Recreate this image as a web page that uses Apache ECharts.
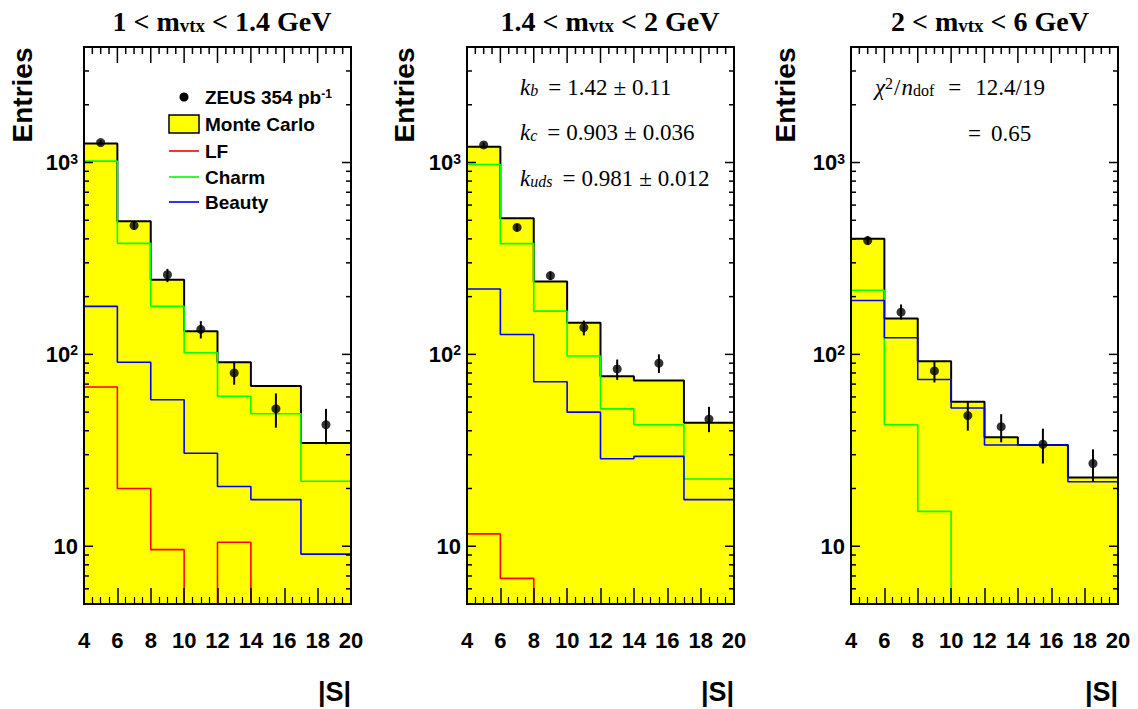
<!DOCTYPE html>
<html><head><meta charset="utf-8">
<script src="https://cdn.jsdelivr.net/npm/echarts@6.0.0/dist/echarts.min.js"></script>
<style>html,body{margin:0;padding:0;background:#fff}#wrap{position:relative;width:1138px;height:709px}.c{position:absolute;left:0;top:0;width:1138px;height:709px}</style>
</head><body><div id="wrap"><div id="c0" class="c"></div><div id="c1" class="c"></div><div id="c2" class="c"></div></div>
<script>
// ---- shared binning / ticks ----
const binEdges = [4, 6, 8, 10, 12, 14, 17, 20];
const pointX = [5, 7, 9, 11, 13, 15.5, 18.5];
const xTickLabels = ['4', '6', '8', '10', '12', '14', '16', '18', '20'];
const xMajorTicks = [6, 8, 10, 12, 14, 16, 18];
const xMinorTicks = [4.5, 5, 5.5, 6.5, 7, 7.5, 8.5, 9, 9.5, 10.5, 11, 11.5, 12.5, 13, 13.5, 14.5, 15, 15.5, 16.5, 17, 17.5, 18.5, 19, 19.5];
const yMajorTicks = [10, 100, 1000];
const yMinorTicks = [6, 7, 8, 9, 20, 30, 40, 50, 60, 70, 80, 90, 200, 300, 400, 500, 600, 700, 800, 900, 2000, 3000];
const panelTitles = ['1 < m|vtx| < 1.4 GeV', '1.4 < m|vtx| < 2 GeV', '2 < m|vtx| < 6 GeV'];
const legendNames = ['ZEUS 354 pb', 'Monte Carlo', 'LF', 'Charm', 'Beauty'];

// ---- panel 1: 1 < m_vtx < 1.4 GeV ----
const mc1 = [1255, 494, 245, 132, 91, 68.5, 34.5];
const charm1 = [1017, 379, 178, 102, 60.5, 49, 21.8];
const beauty1 = [178, 91, 58, 30.5, 20.5, 17.5, 9.1];
const lf1 = [67.6, 20, 9.6, 1, 10.5, 1, 1];
const data1 = [1270, 469, 260, 135, 80, 52, 43];
const lo1 = [1235, 445, 238, 121, 69.5, 41.5, 34];
const hi1 = [1305, 494, 279, 149, 91, 62.6, 52];

// ---- panel 2: 1.4 < m_vtx < 2 GeV ----
const mc2 = [1207, 512, 240, 146, 77, 73, 44];
const charm2 = [976, 378, 168, 98, 52, 43, 22.4];
const beauty2 = [219, 127, 72, 50, 28.6, 29.4, 17.5];
const lf2 = [11.6, 6.8, 1, 1, 1, 1, 1];
const data2 = [1235, 459, 257, 138, 84, 90, 46];
const lo2 = [1200, 438, 244, 125.6, 73.6, 80, 39.3];
const hi2 = [1270, 480, 271, 150, 94, 100, 53.3];

// ---- panel 3: 2 < m_vtx < 6 GeV ----
const mc3 = [400, 154, 92, 56.6, 37, 33.7, 22.8];
const charm3 = [216, 43, 15.2, 1, 1, 1, 1];
const beauty3 = [191, 122, 74, 52.5, 33.7, 33.7, 21.7];
const data3 = [392, 166, 82, 48, 42, 34, 27];
const lo3 = [372, 152, 71.4, 40, 34.8, 27, 21.8];
const hi3 = [412, 182, 92.3, 56.3, 48.8, 41, 32];

const panels = [
  {mc: mc1, charm: charm1, beauty: beauty1, lf: lf1, data: data1, lo: lo1, hi: hi1},
  {mc: mc2, charm: charm2, beauty: beauty2, lf: lf2, data: data2, lo: lo2, hi: hi2},
  {mc: mc3, charm: charm3, beauty: beauty3, lf: null, data: data3, lo: lo3, hi: hi3}
];

const gridLefts = [84, 467, 851];
const gridTop = 47, gridW = 267, gridH = 557;
const SANS = 'Liberation Sans';
const SERIF = 'Liberation Serif';

function stepData(vals) {
  return binEdges.map((e, i) => [e, vals[Math.min(i, vals.length - 1)]]);
}

// ---- texts shared builders ----
const titleCenters = [222, 610, 990];
const entriesX = [22.5, 404, 785.5];
const legY = [97, 124, 151, 177, 202];
const legTextStyle = {fontFamily: SANS, fontWeight: 'bold', fontSize: 19, align: 'left', verticalAlign: 'middle', fill: '#000'};
const legColors = ['#ff0000', '#00ff00', '#0000ff'];
const mathRich = {
  t: {fontFamily: SERIF, fontSize: 23, lineHeight: 23, verticalAlign: 'top', fill: '#000'},
  i: {fontFamily: SERIF, fontStyle: 'italic', fontSize: 23, lineHeight: 23, verticalAlign: 'top', fill: '#000'},
  eq: {fontFamily: SERIF, fontSize: 23, lineHeight: 23, verticalAlign: 'top', padding: [0, 6, 0, 10], fill: '#000'},
  eq2: {fontFamily: SERIF, fontSize: 23, lineHeight: 23, verticalAlign: 'top', padding: [0, 14, 0, 14], fill: '#000'},
  eq3: {fontFamily: SERIF, fontSize: 23, lineHeight: 23, verticalAlign: 'top', padding: [0, 10, 0, 0], fill: '#000'},
  pm: {fontFamily: SERIF, fontSize: 23, lineHeight: 23, verticalAlign: 'top', padding: [0, 6, 0, 6], fill: '#000'},
  sl: {fontFamily: SERIF, fontSize: 23, lineHeight: 23, verticalAlign: 'top', padding: [0, 1, 0, 1], fill: '#000'},
  sub: {fontFamily: SERIF, fontStyle: 'italic', fontSize: 16, lineHeight: 16, padding: [10, 0, 0, 0], verticalAlign: 'bottom', fill: '#000'},
  subr: {fontFamily: SERIF, fontSize: 16, lineHeight: 16, padding: [10, 0, 0, 0], verticalAlign: 'bottom', fill: '#000'},
  sup: {fontFamily: SERIF, fontSize: 16, lineHeight: 16, verticalAlign: 'top', fill: '#000'}
};
const annotations = [
  [],
  [
    {x: 520, y: 87, text: '{i|k}{sub|b}{eq|=}{t|1.42}{pm|±}{t|0.11}'},
    {x: 520, y: 132, text: '{i|k}{sub|c}{eq|=}{t|0.903}{pm|±}{t|0.036}'},
    {x: 520, y: 178, text: '{i|k}{sub|uds}{eq|=}{t|0.981}{pm|±}{t|0.012}'}
  ],
  [
    {x: 875, y: 87, text: '{i|χ}{sup|2}{sl|/}{i|n}{subr|dof}{eq2|=}{t|12.4/19}'},
    {x: 968, y: 133, text: '{eq3|=}{t|0.65}'}
  ]
];

function panelTexts(k) {
  const els = [];
  const parts = panelTitles[k].split('|');
  els.push({
    type: 'text', x: titleCenters[k], y: 21, z: 20, silent: true,
    style: {
      text: '{m|' + parts[0] + '}{s|' + parts[1] + '}{m|' + parts[2] + '}',
      align: 'center', verticalAlign: 'middle',
      rich: {
        m: {fontFamily: SERIF, fontWeight: 'bold', fontSize: 28, lineHeight: 28, verticalAlign: 'top', fill: '#000'},
        s: {fontFamily: SERIF, fontWeight: 'bold', fontSize: 19, lineHeight: 19, padding: [17, 0, 0, 0], verticalAlign: 'bottom', fill: '#000'}
      }
    }
  });
  els.push({
    type: 'text', x: entriesX[k], y: 95, rotation: Math.PI / 2, z: 20, silent: true,
    style: {text: 'Entries', fontFamily: SANS, fontWeight: 'bold', fontSize: 28, align: 'center', verticalAlign: 'middle', fill: '#000'}
  });
  els.push({
    type: 'text', x: gridLefts[k] + gridW, y: 692, z: 20, silent: true,
    style: {text: '|S|', fontFamily: SANS, fontWeight: 'bold', fontSize: 27, align: 'right', verticalAlign: 'middle', fill: '#000'}
  });
  if (k === 0) {
    els.push({type: 'circle', shape: {cx: 184, cy: legY[0], r: 4.5}, style: {fill: '#000'}, z: 20, silent: true});
    els.push({type: 'text', x: 205, y: legY[0], z: 20, silent: true, style: {
      text: '{m|' + legendNames[0] + '}{s|-1}', align: 'left', verticalAlign: 'middle',
      rich: {
        m: {fontFamily: SANS, fontWeight: 'bold', fontSize: 19, lineHeight: 19, verticalAlign: 'bottom', fill: '#000'},
        s: {fontFamily: SANS, fontWeight: 'bold', fontSize: 12, lineHeight: 12, verticalAlign: 'top', fill: '#000'}
      }}});
    els.push({type: 'rect', shape: {x: 169, y: 115, width: 30, height: 18}, style: {fill: '#ffff00', stroke: '#000', lineWidth: 1.5}, z: 20, silent: true});
    els.push({type: 'text', x: 205, y: legY[1], z: 20, silent: true, style: Object.assign({text: legendNames[1]}, legTextStyle)});
    [2, 3, 4].forEach((n, j) => {
      els.push({type: 'line', shape: {x1: 169, y1: legY[n], x2: 199, y2: legY[n]}, style: {stroke: legColors[j], lineWidth: 1.6}, z: 20, silent: true});
      els.push({type: 'text', x: 205, y: legY[n], z: 20, silent: true, style: Object.assign({text: legendNames[n]}, legTextStyle)});
    });
  }
  annotations[k].forEach(a => els.push({
    type: 'text', x: a.x, y: a.y, z: 20, silent: true,
    style: {text: a.text, align: 'left', verticalAlign: 'middle', rich: mathRich}
  }));
  return els;
}

function buildPanel(k) {
  const p = panels[k];
  const series = [];
  series.push({
    name: legendNames[1], type: 'line', step: 'end', data: stepData(p.mc), symbol: 'none', z: 2, silent: true,
    lineStyle: {color: '#000', width: 2}, areaStyle: {color: '#ffff00', opacity: 1, origin: 'start'}
  });
  if (p.lf) series.push({
    name: legendNames[2], type: 'line', step: 'end', data: stepData(p.lf), symbol: 'none', z: 3, silent: true,
    lineStyle: {color: '#ff0000', width: 1.6}
  });
  series.push({
    name: legendNames[3], type: 'line', step: 'end', data: stepData(p.charm), symbol: 'none', z: 3, silent: true,
    lineStyle: {color: '#00ff00', width: 1.6}
  });
  series.push({
    name: legendNames[4], type: 'line', step: 'end', data: stepData(p.beauty), symbol: 'none', z: 3, silent: true,
    lineStyle: {color: '#0000ff', width: 1.6}
  });
  series.push({
    name: legendNames[0] + ' errors', type: 'custom', z: 4, silent: true,
    data: pointX.map((x, i) => [x, p.lo[i], p.hi[i]]), encode: {x: 0, y: [1, 2]},
    renderItem: (params, api) => {
      const a = api.coord([api.value(0), api.value(1)]);
      const b = api.coord([api.value(0), api.value(2)]);
      return {type: 'line', shape: {x1: a[0], y1: a[1], x2: b[0], y2: b[1]}, style: {stroke: '#000', lineWidth: 2}};
    }
  });
  series.push({
    name: legendNames[0], type: 'scatter', z: 5, silent: true,
    data: pointX.map((x, i) => [x, p.data[i]]), symbol: 'circle', symbolSize: 9, itemStyle: {color: '#000'}
  });
  // y ticks (left and right) and frame
  series.push({
    name: 'y ticks', type: 'custom', z: 11, silent: true,
    data: yMajorTicks.map(v => [4, v, 1]).concat(yMinorTicks.map(v => [4, v, 0])), encode: {x: 0, y: 1},
    renderItem: (params, api) => {
      const cs = params.coordSys;
      const l = api.coord([4, api.value(1)]);
      const len = api.value(2) ? 9 : 5;
      return {type: 'group', children: [
        {type: 'line', shape: {x1: l[0], y1: l[1], x2: l[0] + len, y2: l[1]}, style: {stroke: '#000', lineWidth: 1.5}},
        {type: 'line', shape: {x1: cs.x + cs.width - len, y1: l[1], x2: cs.x + cs.width, y2: l[1]}, style: {stroke: '#000', lineWidth: 1.5}}
      ]};
    }
  });
  // top x ticks
  series.push({
    name: 'x top ticks', type: 'custom', z: 11, silent: true,
    data: xMajorTicks.map(v => [v, 100, 1]).concat(xMinorTicks.map(v => [v, 100, 0])), encode: {x: 0, y: 1},
    renderItem: (params, api) => {
      const cs = params.coordSys;
      const q = api.coord([api.value(0), 100]);
      const len = api.value(2) ? 16 : 7;
      return {type: 'group', children: [
        {type: 'line', shape: {x1: q[0], y1: cs.y, x2: q[0], y2: cs.y + len}, style: {stroke: '#000', lineWidth: 1.5}}
      ]};
    }
  });
  // top and right frame
  series.push({
    name: 'frame', type: 'custom', z: 11, silent: true, data: [[4, 100]], encode: {x: 0, y: 1},
    renderItem: (params, api) => {
      const cs = params.coordSys;
      return {type: 'group', children: [
        {type: 'line', shape: {x1: cs.x, y1: cs.y, x2: cs.x + cs.width, y2: cs.y}, style: {stroke: '#000', lineWidth: 2}},
        {type: 'line', shape: {x1: cs.x + cs.width, y1: cs.y, x2: cs.x + cs.width, y2: cs.y + cs.height}, style: {stroke: '#000', lineWidth: 2}}
      ]};
    }
  });
  const chart = echarts.init(document.getElementById('c' + k), null, {renderer: 'svg', width: 1138, height: 709});
  chart.setOption({
    animation: false,
    grid: {left: gridLefts[k], top: gridTop, width: gridW, height: gridH, show: true, borderColor: '#000', borderWidth: 2, backgroundColor: 'transparent'},
    xAxis: {
      type: 'value', min: 4, max: 20, interval: 2, z: 10, position: 'bottom',
      axisLine: {show: true, onZero: false, lineStyle: {color: '#000', width: 2}},
      axisTick: {show: true, inside: true, length: 16, lineStyle: {color: '#000', width: 1.5}},
      minorTick: {show: true, splitNumber: 4, length: 7, lineStyle: {color: '#000', width: 1.2}},
      splitLine: {show: false}, minorSplitLine: {show: false},
      axisLabel: {show: true, margin: 25, color: '#000', fontFamily: SANS, fontWeight: 'bold', fontSize: 22,
        formatter: v => xTickLabels[Math.round((v - 4) / 2)]}
    },
    yAxis: {
      type: 'log', logBase: 10, min: 5, max: 4000, position: 'left', z: 10,
      axisLine: {show: true, onZero: false, lineStyle: {color: '#000', width: 2}},
      axisTick: {show: false}, minorTick: {show: false}, splitLine: {show: false},
      axisLabel: {
        show: true, margin: 6, color: '#000',
        formatter: v => {
          const e = Math.log10(v), r = Math.round(e);
          if (Math.abs(e - r) > 1e-6) return '';
          return r === 1 ? '{b|10}' : '{b|10}{s|' + r + '}';
        },
        rich: {
          b: {fontFamily: SANS, fontWeight: 'bold', fontSize: 22, lineHeight: 22, color: '#000', verticalAlign: 'bottom'},
          s: {fontFamily: SANS, fontWeight: 'bold', fontSize: 14, lineHeight: 22, padding: [0, 0, 6, 0], color: '#000', verticalAlign: 'top'}
        }
      }
    },
    series,
    graphic: {elements: panelTexts(k)}
  });
}
[0, 1, 2].forEach(buildPanel);
</script>
</body></html>
